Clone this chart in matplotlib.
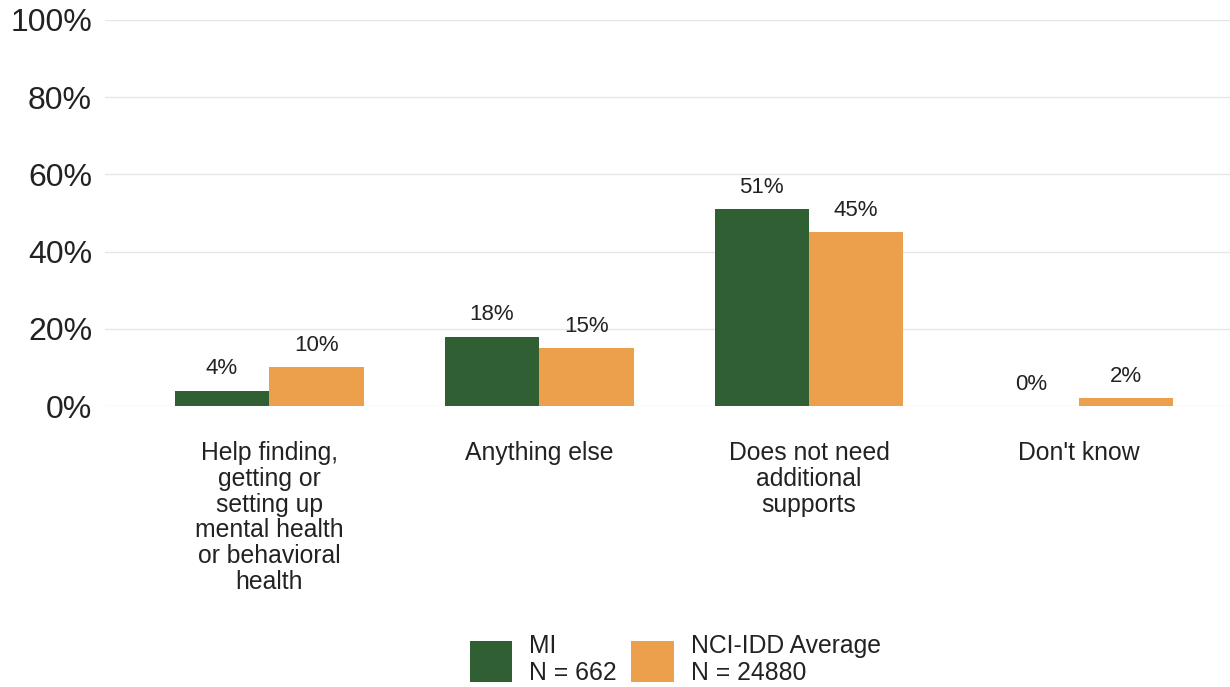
import matplotlib.pyplot as plt
import numpy as np
from matplotlib.ticker import MultipleLocator, FuncFormatter

plt.rcParams['font.family'] = ['Liberation Sans', 'DejaVu Sans']

categories = ["Help finding,\ngetting or\nsetting up\nmental health\nor behavioral\nhealth",
              "Anything else",
              "Does not need\nadditional\nsupports",
              "Don't know"]
mi_values = [4, 18, 51, 0]
avg_values = [10, 15, 45, 2]
series_names = ["MI\nN = 662", "NCI-IDD Average\nN = 24880"]

green = "#2f5f32"
orange = "#eca04c"

fig = plt.figure(figsize=(12.3, 6.87), dpi=100)
ax = fig.add_axes([0.085, 0.409, 0.915, 0.562])

x = np.arange(len(categories))
w = 0.35
b1 = ax.bar(x - w / 2, mi_values, w, color=green, label=series_names[0], zorder=3)
b2 = ax.bar(x + w / 2, avg_values, w, color=orange, label=series_names[1], zorder=3)

# labels over bars
for bars, vals in [(b1, mi_values), (b2, avg_values)]:
    for r, v in zip(bars, vals):
        ax.annotate(f"{v}%", (r.get_x() + r.get_width() / 2, v),
                    xytext=(0, 8), textcoords="offset points",
                    ha="center", va="bottom", fontsize=16, color="#222222")

ax.set_ylim(0, 100)
ax.set_xlim(-0.61, 3.56)
ax.yaxis.set_major_locator(MultipleLocator(20))
ax.yaxis.set_major_formatter(FuncFormatter(lambda v, p: f"{int(v)}%"))
ax.yaxis.grid(True, color="#e6e6e6", linewidth=1, zorder=0)
ax.set_axisbelow(True)
for s in ax.spines.values():
    s.set_visible(False)
ax.tick_params(axis="y", length=0, labelsize=23, pad=9, labelcolor="#222222")
ax.tick_params(axis="x", length=0, labelsize=17.8, pad=25, labelcolor="#222222")
ax.set_xticks(x)
ax.set_xticklabels(categories, linespacing=1.1)

fig.legend(handles=[b1, b2], loc="lower center", bbox_to_anchor=(0.549, -0.03), ncol=2,
           frameon=False, fontsize=17.8, handlelength=1.7, handleheight=2.2,
           handletextpad=0.7, columnspacing=0.6, labelcolor="#222222")

plt.savefig("out.png", dpi=100)
